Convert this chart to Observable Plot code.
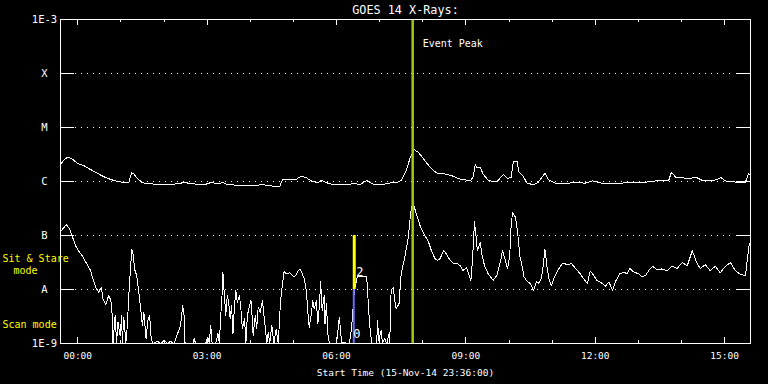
<!DOCTYPE html>
<html><head><meta charset="utf-8">
<script src="https://cdn.jsdelivr.net/npm/d3@7"></script>
<script src="https://cdn.jsdelivr.net/npm/@observablehq/plot@0.6"></script>
<style>
html,body{margin:0;padding:0;background:#000;}
#chart svg{display:block;}
</style></head><body><div id="chart"></div>
<script>
// ---- chart text ----
const title = "GOES 14 X-Rays:";
const xLabel = "Start Time (15-Nov-14 23:36:00)";
const eventLabel = "Event Peak";
const modeLabels = ["Sit & Stare", "mode", "Scan mode"];
const modeLabelLog = [-7.44, -7.66, -8.65];
const modeLabelDx = [-58, -47, -58];

// ---- axes ----
const startTime = "2014-11-15T23:36:00Z";
const spanMinutes = 960;
const xTickDay = "2014-11-16";
const xTickLabels = ["00:00", "03:00", "06:00", "09:00", "12:00", "15:00"];
const yTickValues = [1e-9, 1e-8, 1e-7, 1e-6, 1e-5, 1e-4, 1e-3];
const yTickLabels = ["1E-9", "A", "B", "C", "M", "X", "1E-3"];

// ---- events ----
const eventPeakTime = "2014-11-16T07:46:00Z";
const modeSwitchTime = "2014-11-16T06:24:00Z";
const sitStareRange = [1e-8, 1e-7];
const scanRange = [1e-9, 1e-8];

// ---- long channel (1-8 Å): minutes after start, log10 flux (W/m²) ----
const longMin = [1,5,10,16,23,33,42,53,63,74, 88,95,99,102,107,114,121,144,167,170,
 174,181,200,209,219,226,233,251,274,281, 288,305,309,319,328,335,342,349,358,363,
 372,381,400,409,416,426,433,440,456,463, 467,474,481,486,492,498,505,512,519,526,
 535,544,554,563,570,574,577,580,584,588, 595,607,616,622,627,630,635,638,644,649,
 658,665,674,679,688,698,716,730,740,753, 777,791,809,828,846,850,856,865,874,884,
 893,907,919,925,939,953,957,960];
const longLog = [-5.67,-5.60,-5.55,-5.58,-5.66,-5.71,-5.78,-5.86,-5.93,-5.98,
 -6.02,-6.02,-5.84,-5.86,-5.95,-6.02,-6.04,-6.06,-6.04,-6.01,
 -6.02,-6.04,-6.06,-6.02,-6.04,-6.02,-6.06,-6.07,-6.07,-6.05,
 -6.08,-6.09,-5.96,-5.96,-5.96,-5.90,-5.93,-5.99,-6.02,-5.98,
 -6.03,-6.06,-6.06,-6.03,-6.06,-5.98,-6.04,-6.06,-6.04,-6.01,
 -6.03,-5.98,-5.80,-5.58,-5.41,-5.46,-5.58,-5.70,-5.80,-5.86,
 -5.86,-5.89,-5.95,-5.97,-5.99,-5.92,-5.69,-5.75,-5.74,-5.86,
 -5.98,-6.01,-5.87,-5.95,-5.92,-5.64,-5.62,-5.83,-5.91,-6.03,
 -6.06,-6.01,-5.85,-5.97,-6.03,-6.04,-6.02,-6.03,-5.99,-6.03,
 -6.04,-6.01,-6.02,-5.99,-5.99,-5.83,-5.92,-5.93,-5.95,-5.92,
 -5.98,-5.99,-5.93,-5.99,-6.01,-6.01,-5.86,-5.88];

// ---- short channel (0.5-4 Å): minutes after start, log10 flux (W/m²) ----
const shortMin = [1,5,8,12,16,21,26,30,35,42, 45,49,53,57,59,63,67,70,72,73,
 76,78,80,83,85,86,88,91,93,95, 98,99,101,103,106,109,112,114,116,119,
 122,124,126,128,135,140,144,149,153,158, 167,170,172,173,176,184,186,188,202,205,
 207,209,211,216,219,221,223,225,226,228, 230,232,234,236,238,240,242,244,246,249,
 251,253,256,258,260,263,265,266,268,271, 273,275,278,281,283,285,287,289,291,294,
 297,300,303,306,308,311,314,319,325,328, 331,334,339,342,344,346,349,351,353,356,
 358,360,362,364,367,368,370,372,374,384, 386,388,391,402,405,409,413,426,428,430,
 433,440,441,443,446,448,451,454,457,458, 460,463,465,467,471,474,479,484,487,490,
 493,498,501,507,512,516,521,525,528,533, 537,542,547,551,556,560,565,568,571,573,
 576,578,580,584,586,590,595,602,607,612, 615,619,622,625,627,629,633,636,639,642,
 645,650,654,658,662,665,669,672,674,677, 680,683,687,693,699,705,711,716,723,728,
 733,737,742,746,753,758,763,768,773,778, 784,788,792,798,805,809,814,820,824,830,
 836,844,851,858,865,872,879,885,890,897, 904,911,918,925,932,939,946,953,955,958,960];
const shortLog = [-6.91,-6.85,-6.80,-6.86,-7.00,-7.19,-7.30,-7.37,-7.49,-7.65,
 -7.80,-7.96,-8.05,-7.96,-8.17,-8.28,-8.11,-8.20,-8.48,-9.00,
 -8.48,-8.98,-8.61,-8.85,-8.48,-9.00,-8.51,-8.98,-8.67,-8.11,
 -7.49,-7.25,-7.34,-7.62,-7.74,-8.05,-8.42,-8.67,-8.42,-8.91,
 -8.54,-8.48,-8.88,-9.00,-8.96,-9.00,-8.94,-9.00,-8.96,-9.00,
 -8.67,-8.30,-8.48,-8.98,-9.00,-9.00,-8.91,-9.00,-9.00,-8.88,
 -9.00,-8.67,-9.00,-9.00,-8.82,-9.00,-8.48,-8.05,-7.68,-8.11,
 -8.48,-8.11,-8.24,-8.54,-8.30,-8.82,-8.30,-8.02,-8.24,-8.11,
 -8.36,-8.73,-8.54,-8.98,-8.48,-8.30,-8.20,-8.36,-8.85,-8.48,
 -8.73,-8.33,-8.42,-8.20,-8.48,-8.70,-9.00,-8.79,-9.00,-8.67,
 -9.00,-8.73,-9.00,-8.24,-7.99,-7.67,-7.71,-7.69,-7.77,-7.73,
 -7.64,-7.63,-7.80,-8.02,-8.39,-8.70,-8.45,-8.20,-8.36,-8.20,
 -8.64,-8.33,-7.86,-8.39,-8.11,-8.64,-8.26,-8.82,-9.00,-9.00,
 -8.76,-8.51,-8.98,-9.00,-8.70,-8.00,-7.76,-7.76,-8.20,-8.64,
 -9.00,-9.00,-8.57,-8.94,-8.76,-9.00,-8.91,-9.00,-8.82,-9.00,
 -8.02,-7.96,-8.20,-8.36,-8.26,-7.71,-7.40,-7.03,-6.60,-6.38,
 -6.51,-6.72,-6.85,-7.00,-7.12,-7.28,-7.43,-7.46,-7.43,-7.28,
 -7.34,-7.46,-7.52,-7.51,-7.56,-7.65,-7.59,-7.71,-7.83,-7.49,
 -6.75,-7.00,-7.28,-7.12,-7.34,-7.56,-7.71,-7.83,-7.74,-7.49,
 -7.28,-7.46,-7.62,-7.37,-6.81,-6.57,-6.66,-6.94,-7.37,-7.56,
 -7.77,-7.86,-7.89,-8.02,-7.86,-7.89,-7.80,-7.52,-7.25,-7.59,
 -7.83,-7.93,-7.77,-7.62,-7.51,-7.54,-7.52,-7.60,-7.71,-7.80,
 -7.89,-7.66,-7.74,-7.83,-7.88,-7.94,-7.86,-8.01,-7.83,-7.71,
 -7.68,-7.71,-7.61,-7.68,-7.71,-7.77,-7.74,-7.62,-7.57,-7.64,
 -7.62,-7.65,-7.57,-7.61,-7.50,-7.56,-7.28,-7.50,-7.61,-7.54,
 -7.65,-7.57,-7.69,-7.57,-7.50,-7.65,-7.72,-7.74,-7.50,-7.19,-7.11];

// ---- build ----
const t0 = new Date(startTime);
const t1 = new Date(+t0 + spanMinutes * 60000);
const atMin = m => new Date(+t0 + m * 60000);
const zip = (ms, ls) => ms.slice(0, Math.min(ms.length, ls.length)).map((m, i) => ({t: atMin(m), f: Math.pow(10, ls[i])}));
const longData = zip(longMin, longLog);
const shortData = zip(shortMin, shortLog);
const majorTicks = xTickLabels.map(s => new Date(`${xTickDay}T${s}:00Z`));
const minorTicks = d3.utcHour.range(t0, t1).filter(d => !majorTicks.some(m => +m === +d));
const peakDate = new Date(eventPeakTime);
const modeDate = new Date(modeSwitchTime);

const W = 768, H = 384, mL = 60, mR = 18, mT = 19, mB = 41;
const pw = W - mL - mR, ph = H - mT - mB;
const white = "#ffffff", yellow = "#ffff00";
const crisp = {shapeRendering: "crispEdges"};

const modeTextMarks = modeLabels.map((label, i) =>
  Plot.text([label], {text: d => d, y: () => Math.pow(10, modeLabelLog[i]), frameAnchor: "left", dx: modeLabelDx[i], textAnchor: "start", lineAnchor: "middle", fill: yellow, fontSize: 10})
);

const chart = Plot.plot({
  width: W, height: H,
  marginLeft: mL, marginRight: mR, marginTop: mT, marginBottom: mB,
  style: {background: "#000", color: white, fontFamily: "'DejaVu Sans Mono', monospace", fontSize: "10px", overflow: "visible"},
  x: {type: "utc", domain: [t0, t1], axis: null},
  y: {type: "log", domain: [1e-9, 1e-3], axis: null},
  marks: [
    Plot.ruleY(yTickValues.slice(1, -1), {y: d => d, stroke: white, strokeDasharray: "1,5", insetLeft: 15, insetRight: 15, ...crisp}),
    Plot.tickY(yTickValues, {y: d => d, stroke: white, insetRight: pw - 14, ...crisp}),
    Plot.tickY(yTickValues, {y: d => d, stroke: white, insetLeft: pw - 14, ...crisp}),
    Plot.tickX(majorTicks, {x: d => d, stroke: white, insetTop: ph - 6, ...crisp}),
    Plot.tickX(majorTicks, {x: d => d, stroke: white, insetBottom: ph - 6, ...crisp}),
    Plot.tickX(minorTicks, {x: d => d, stroke: white, insetTop: ph - 3, ...crisp}),
    Plot.tickX(minorTicks, {x: d => d, stroke: white, insetBottom: ph - 3, ...crisp}),
    Plot.line(longData, {x: "t", y: "f", stroke: white, strokeWidth: 1, ...crisp}),
    Plot.line(shortData, {x: "t", y: "f", stroke: white, strokeWidth: 1, ...crisp}),
    Plot.ruleX([peakDate], {x: d => d, stroke: "#9ccc0c", strokeWidth: 2.5}),
    Plot.ruleX([modeDate], {x: d => d, y1: sitStareRange[0], y2: sitStareRange[1], stroke: yellow, strokeWidth: 3, dx: 0.5}),
    Plot.ruleX([modeDate], {x: d => d, y1: scanRange[0], y2: scanRange[1], stroke: "#6a6aff", strokeWidth: 2}),
    Plot.text(["2"], {x: () => modeDate, y: () => Math.pow(10, -7.67), dx: 6, fill: white, fontSize: 12, lineAnchor: "middle"}),
    Plot.text(["0"], {x: () => modeDate, y: () => Math.pow(10, -8.83), dx: 3, fill: white, fontSize: 12, lineAnchor: "middle"}),
    Plot.frame({stroke: white, ...crisp}),
    Plot.text(yTickValues, {y: d => d, text: (d, i) => yTickLabels[i], frameAnchor: "left", dx: -16, textAnchor: "middle", lineAnchor: "middle", fill: white, fontSize: 10.5}),
    Plot.text(majorTicks, {x: d => d, text: (d, i) => xTickLabels[i], frameAnchor: "bottom", dy: 12, lineAnchor: "middle", fill: white, fontSize: 9.5}),
    Plot.text([xLabel], {text: d => d, frameAnchor: "bottom", dy: 29, lineAnchor: "middle", fill: white, fontSize: 9.5}),
    Plot.text([title], {text: d => d, frameAnchor: "top", dy: -9.5, lineAnchor: "middle", fill: white, fontSize: 11.8}),
    Plot.text([eventLabel], {text: d => d, x: () => peakDate, frameAnchor: "top", dy: 24, dx: 10, textAnchor: "start", lineAnchor: "middle", fill: white, fontSize: 10}),
    ...modeTextMarks
  ]
});
document.getElementById("chart").append(chart);
</script>
</body></html>
